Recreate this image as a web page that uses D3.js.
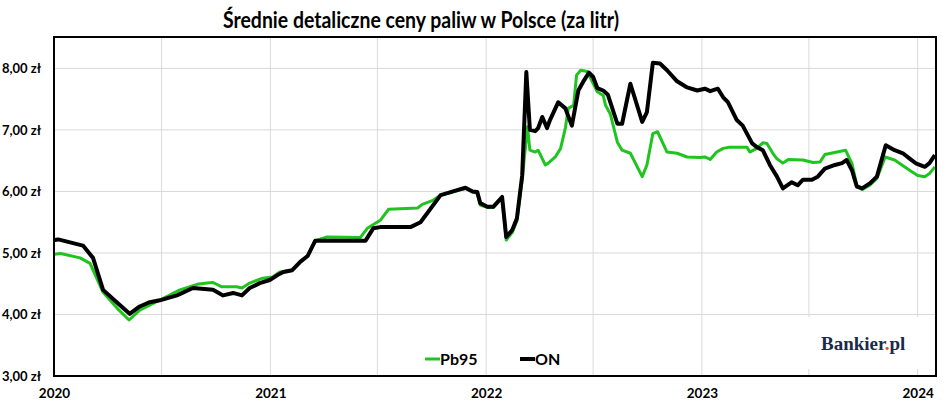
<!DOCTYPE html>
<html>
<head>
<meta charset="utf-8">
<script src="https://cdn.jsdelivr.net/npm/d3@7"></script>
<style>
  body { margin: 0; background: #fff; }
  text { font-family: Lato, "Open Sans", sans-serif; }
</style>
</head>
<body>
<svg id="chart"></svg>
<script>
// weekly prices (turning points)
const onDates = ["2020-01-02","2020-01-08","2020-02-19","2020-03-07","2020-03-24","2020-04-17","2020-05-08","2020-05-25","2020-06-11","2020-06-28","2020-07-27","2020-08-23","2020-09-26","2020-10-13","2020-10-30","2020-11-14","2020-11-27","2020-12-14","2020-12-31","2021-01-13","2021-01-23","2021-02-07","2021-02-21","2021-03-05","2021-03-18","2021-05-28","2021-06-11","2021-06-24","2021-07-06","2021-08-26","2021-09-12","2021-10-16","2021-11-02","2021-11-13","2021-11-27","2021-12-09","2021-12-17","2021-12-22","2022-01-03","2022-01-13","2022-01-28","2022-02-04","2022-02-14","2022-02-22","2022-03-03","2022-03-10","2022-03-16","2022-03-25","2022-03-30","2022-04-06","2022-04-14","2022-04-19","2022-05-03","2022-05-15","2022-05-26","2022-06-06","2022-06-14","2022-06-24","2022-07-01","2022-07-08","2022-07-18","2022-07-26","2022-08-11","2022-08-19","2022-09-02","2022-09-22","2022-09-30","2022-10-10","2022-10-22","2022-11-03","2022-11-20","2022-12-07","2022-12-24","2023-01-06","2023-01-15","2023-01-28","2023-02-06","2023-02-14","2023-03-01","2023-03-11","2023-03-27","2023-04-04","2023-04-14","2023-04-26","2023-05-08","2023-05-18","2023-06-02","2023-06-12","2023-06-21","2023-07-06","2023-07-16","2023-07-28","2023-08-14","2023-08-26","2023-09-03","2023-09-12","2023-09-20","2023-09-29","2023-10-12","2023-10-24","2023-11-08","2023-11-23","2023-12-07","2023-12-19","2023-12-30","2024-01-13","2024-01-21","2024-01-30"];
const onValues = [5.21,5.22,5.12,4.92,4.40,4.19,4.01,4.13,4.20,4.23,4.31,4.43,4.40,4.31,4.35,4.31,4.43,4.51,4.56,4.64,4.69,4.72,4.86,4.95,5.20,5.20,5.20,5.40,5.42,5.42,5.50,5.94,5.99,6.02,6.06,6.00,5.99,5.81,5.75,5.75,5.91,5.26,5.37,5.56,6.26,7.94,7.00,6.98,7.03,7.21,7.03,7.16,7.45,7.35,7.07,7.64,7.78,7.93,7.86,7.68,7.64,7.57,7.10,7.10,7.75,7.13,7.29,8.09,8.08,7.97,7.79,7.69,7.64,7.67,7.63,7.67,7.53,7.45,7.16,7.07,6.78,6.72,6.67,6.43,6.24,6.05,6.15,6.10,6.19,6.19,6.24,6.37,6.43,6.46,6.51,6.34,6.08,6.05,6.13,6.24,6.75,6.67,6.62,6.53,6.45,6.40,6.46,6.59];

const pbDates = ["2020-01-02","2020-01-12","2020-02-14","2020-03-02","2020-03-24","2020-04-17","2020-05-07","2020-05-25","2020-06-11","2020-07-03","2020-08-01","2020-08-30","2020-09-16","2020-09-26","2020-10-11","2020-11-05","2020-11-14","2020-11-27","2020-12-19","2021-01-05","2021-01-17","2021-02-07","2021-02-21","2021-03-05","2021-03-18","2021-04-07","2021-06-02","2021-06-14","2021-07-06","2021-07-20","2021-09-07","2021-09-15","2021-10-04","2021-10-16","2021-11-02","2021-11-13","2021-11-27","2021-12-09","2021-12-17","2021-12-22","2022-01-03","2022-01-13","2022-01-28","2022-02-04","2022-02-14","2022-02-22","2022-03-03","2022-03-12","2022-03-16","2022-03-25","2022-03-30","2022-04-11","2022-04-16","2022-04-28","2022-05-07","2022-05-15","2022-05-20","2022-05-29","2022-06-03","2022-06-10","2022-06-21","2022-07-08","2022-07-18","2022-07-22","2022-07-30","2022-08-11","2022-08-19","2022-09-02","2022-09-22","2022-09-30","2022-10-10","2022-10-18","2022-11-03","2022-11-20","2022-12-07","2022-12-29","2023-01-06","2023-01-15","2023-01-26","2023-02-06","2023-02-17","2023-03-18","2023-03-23","2023-04-04","2023-04-14","2023-04-21","2023-05-01","2023-05-08","2023-05-18","2023-05-27","2023-06-21","2023-07-08","2023-07-20","2023-07-28","2023-09-01","2023-09-12","2023-09-20","2023-09-29","2023-10-12","2023-10-24","2023-11-07","2023-11-23","2023-12-19","2024-01-01","2024-01-13","2024-01-21","2024-01-30"];
const pbValues = [4.98,4.99,4.92,4.83,4.36,4.10,3.91,4.07,4.15,4.26,4.40,4.49,4.51,4.52,4.45,4.45,4.43,4.51,4.59,4.61,4.69,4.72,4.86,4.95,5.20,5.26,5.25,5.40,5.53,5.71,5.73,5.79,5.86,5.94,5.98,6.01,6.05,5.99,5.97,5.78,5.74,5.74,5.89,5.21,5.33,5.52,6.20,7.05,6.67,6.64,6.67,6.43,6.46,6.56,6.70,7.03,7.35,7.40,7.89,7.97,7.95,7.62,7.56,7.40,7.26,6.80,6.67,6.62,6.24,6.43,6.94,6.97,6.64,6.62,6.56,6.55,6.56,6.52,6.64,6.70,6.72,6.72,6.64,6.70,6.79,6.78,6.62,6.53,6.46,6.52,6.51,6.47,6.48,6.60,6.67,6.45,6.10,6.03,6.10,6.21,6.56,6.51,6.34,6.26,6.24,6.29,6.40];

const yTicks = [3, 4, 5, 6, 7, 8];
const xTickDates = ["2020-01-01","2021-01-01","2022-01-01","2023-01-01","2024-01-01"];
const xGridDates = ["2020-07-01","2021-01-01","2021-07-01","2022-01-01","2022-07-01","2023-01-01","2023-07-01","2024-01-01"];
const seriesNames = ["Pb95", "ON"];

const W = 948, H = 410;
const margin = { top: 37, right: 12, bottom: 34, left: 54 };
const width = W - margin.left - margin.right;
const height = H - margin.top - margin.bottom;

const parse = d3.timeParse("%Y-%m-%d");
const pb = pbDates.map((d, i) => ({ date: parse(d), value: pbValues[i] }));
const on = onDates.map((d, i) => ({ date: parse(d), value: onValues[i] }));

const svg = d3.select("#chart").attr("width", W).attr("height", H);
const g = svg.append("g").attr("transform", `translate(${margin.left},${margin.top})`);

const x = d3.scaleTime()
    .domain([parse("2020-01-01"), parse("2024-02-01")])
    .range([0, width]);
const y = d3.scaleLinear()
    .domain([3, 8.51])
    .range([height, 0]);

// title
svg.append("text")
    .attr("x", 421).attr("y", 28)
    .attr("text-anchor", "middle")
    .attr("textLength", 396).attr("lengthAdjust", "spacingAndGlyphs")
    .style("font-size", "22px").style("font-weight", "bold")
    .text("Średnie detaliczne ceny paliw w Polsce (za litr)");

// grid
g.append("g").selectAll("line").data(yTicks.slice(1)).join("line")
    .attr("x1", 0).attr("x2", width)
    .attr("y1", d => y(d)).attr("y2", d => y(d))
    .attr("stroke", "#d9d9d9").attr("stroke-width", 1);
g.append("g").selectAll("line").data(xGridDates.map(parse)).join("line")
    .attr("x1", d => x(d)).attr("x2", d => x(d))
    .attr("y1", 0).attr("y2", height)
    .attr("stroke", "#d9d9d9").attr("stroke-width", 1);

// y axis labels
const yAxis = g.append("g")
    .call(d3.axisLeft(y).tickValues(yTicks).tickSize(0).tickPadding(13)
        .tickFormat(d => d3.format(".2f")(d).replace(".", ",") + " zł"));
yAxis.select(".domain").remove();
yAxis.selectAll("text").style("font-size", "13px").style("font-weight", "bold")
    .style("font-family", "Lato, sans-serif").attr("fill", "#000");

// x axis labels
const xAxis = g.append("g")
    .attr("transform", `translate(0,${height})`)
    .call(d3.axisBottom(x).tickValues(xTickDates.map(parse)).tickSize(0).tickPadding(12)
        .tickFormat(d3.timeFormat("%Y")));
xAxis.select(".domain").remove();
xAxis.selectAll("text").style("font-size", "13.5px").style("font-weight", "bold")
    .style("font-family", "Lato, sans-serif").attr("fill", "#000");

// logo box (covers grid)
g.append("rect")
    .attr("x", 750).attr("y", 280).attr("width", 120).attr("height", 52)
    .attr("fill", "#fff");
const logo = g.append("text")
    .attr("x", 767).attr("y", 313)
    .style("font-family", "'Liberation Serif', 'DejaVu Serif', serif")
    .style("font-size", "19px").style("font-weight", "bold")
    .attr("fill", "#1b2a4a");
logo.append("tspan").text("Bankier");
logo.append("tspan").attr("fill", "#e8491d").text(".");
logo.append("tspan").text("pl");

// lines
const line = d3.line().x(d => x(d.date)).y(d => y(d.value));
g.append("path").datum(pb).attr("d", line)
    .attr("fill", "none").attr("stroke", "#1fc41f").attr("stroke-width", 3)
    .attr("stroke-linejoin", "round");
g.append("path").datum(on).attr("d", line)
    .attr("fill", "none").attr("stroke", "#000").attr("stroke-width", 4)
    .attr("stroke-linejoin", "round");

// frame
g.append("rect").attr("x", 0).attr("y", 0).attr("width", width).attr("height", height)
    .attr("fill", "none").attr("stroke", "#000").attr("stroke-width", 2);

// legend
const legendColors = ["#1fc41f", "#000"];
const legendX = [371, 466];
const legend = g.append("g").attr("transform", `translate(0,${height - 17})`);
seriesNames.forEach((name, i) => {
    legend.append("line")
        .attr("x1", legendX[i]).attr("x2", legendX[i] + 15)
        .attr("y1", 0).attr("y2", 0)
        .attr("stroke", legendColors[i]).attr("stroke-width", i === 0 ? 3 : 4);
    legend.append("text")
        .attr("x", legendX[i] + 15).attr("y", 6)
        .style("font-size", "16px").style("font-weight", "bold")
        .text(name);
});
</script>
</body>
</html>
